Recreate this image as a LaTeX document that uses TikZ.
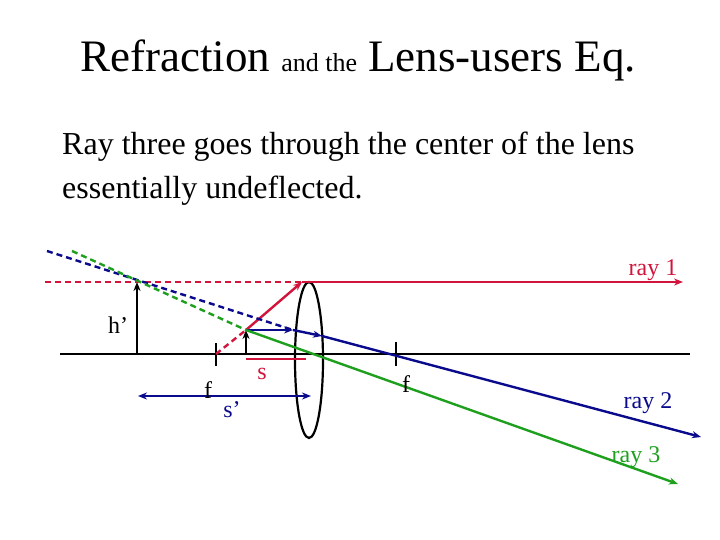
\documentclass[tikz,border=0pt]{standalone}
\usepackage{fontspec}
\setmainfont{Liberation Serif}
\usetikzlibrary{arrows.meta,shapes.geometric}
\definecolor{rred}{RGB}{210,20,60}
\definecolor{bblue}{RGB}{10,10,140}
\definecolor{ggreen}{RGB}{30,160,30}
\begin{document}
\begin{tikzpicture}[x=1pt,y=-1pt,
  ln/.style={line width=2.4pt},
  dsh/.style={line width=2.4pt,dash pattern=on 6pt off 4pt},
  tip/.style={-{Stealth[length=9pt,width=7pt]}},
  lbl/.style={font=\fontsize{24}{26}\selectfont,inner sep=0pt}]
\useasboundingbox (0,0) rectangle (720,540);
\node[inner sep=0pt] (title) at (358,60) {\fontsize{45}{48}\selectfont Refraction {\fontsize{26}{28}\selectfont and the} Lens-users Eq.};
\node[anchor=west,align=left,inner sep=0pt,font=\fontsize{32}{44}\selectfont] (body) at (62,169) {Ray three goes through the center of the lens\\essentially undeflected.};
% coordinates
\coordinate (axL) at (60,354); \coordinate (axR) at (690,354);
\coordinate (imgB) at (137,354); \coordinate (imgT) at (137,282);
\coordinate (objB) at (246,354); \coordinate (objT) at (246,330);
\coordinate (lensTop) at (302,282);
\coordinate (fL) at (216,354); \coordinate (fR) at (396,354);
\coordinate (bl) at (293,330);
\draw[line width=2.2pt] (axL) -- (axR);
\node[draw,line width=2.2pt,ellipse,minimum width=28pt,minimum height=156pt,inner sep=0pt] (lens) at (309,360) {};
\draw[line width=2.2pt] (216,343) -- (216,366) (396,342) -- (396,366);
\draw[line width=2.2pt,tip] (imgB) -- (imgT);
\draw[line width=2.2pt,tip] (objB) -- (objT);
% red ray
\draw[dsh,rred] (45,282) -- (lensTop);
\draw[ln,rred,tip] (lensTop) -- (683,282);
\draw[ln,rred,tip] (objT) -- (lensTop);
\draw[dsh,rred] (fL) -- (objT);
\draw[ln,rred] (246,359) -- (306,359);
% blue ray
\draw[dsh,bblue] (47,251) -- (bl);
\draw[ln,bblue,tip] (objT) -- (bl);
\draw[ln,bblue,tip] (bl) -- (322,336);
\draw[ln,bblue,tip] (322,336) -- (701,437);
% green ray
\draw[dsh,ggreen] (72,251) -- (objT);
\draw[ln,ggreen,tip] (objT) -- (678,484);
% f' arrow
\draw[line width=2.2pt,bblue,{Stealth[length=9pt,width=7pt]}-{Stealth[length=9pt,width=7pt]}] (138,396) -- (311,396);
% labels
\node[lbl] (hl) at (118,325) {h’};
\node[lbl] (fl) at (208,390) {f};
\node[lbl,bblue] (sp) at (232,410) {s’};
\node[lbl,rred] (sl) at (262,374) {s};
\node[lbl] (fr) at (406,384) {f};
\node[lbl,rred] (r1) at (653,270) {ray 1};
\node[lbl,bblue] (r2) at (648,403) {ray 2};
\node[lbl,ggreen] (r3) at (636,457) {ray 3};
\end{tikzpicture}
\end{document}
